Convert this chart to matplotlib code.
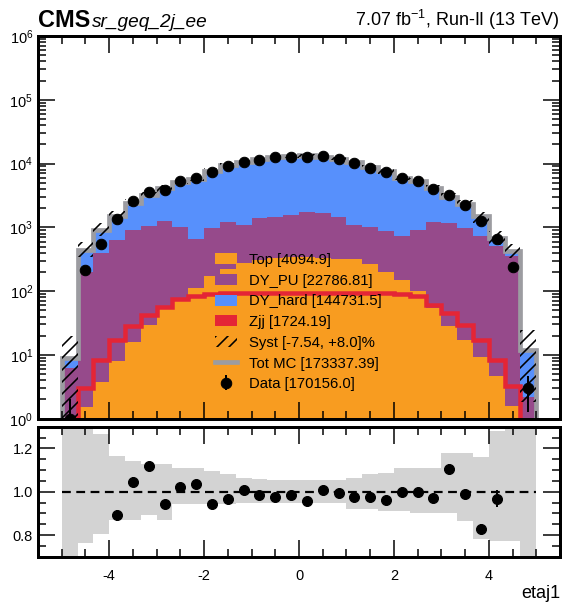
import numpy as np
from matplotlib import pyplot as plt
from matplotlib.patches import Patch
from matplotlib.lines import Line2D
from matplotlib.ticker import MultipleLocator, LogLocator, NullFormatter, FormatStrFormatter

plt.rcParams['font.family'] = ['Liberation Sans', 'DejaVu Sans']
plt.rcParams['mathtext.fontset'] = 'custom'
plt.rcParams['mathtext.rm'] = 'Liberation Sans'
plt.rcParams['mathtext.it'] = 'Liberation Sans:italic'
plt.rcParams['mathtext.bf'] = 'Liberation Sans:bold'
plt.rcParams['axes.unicode_minus'] = False
plt.rcParams['hatch.linewidth'] = 1.6

# 30 bins in etaj1 from -5 to 5
edges = np.linspace(-5, 5, 31)

top = np.array([0, 1.5, 3.8, 7.9, 16, 29, 54, 74, 112, 170,
                220, 280, 312, 328, 337, 338, 333, 323, 320, 270,
                200, 150, 100, 55, 28, 17, 9.4, 4.6, 1.6, 0])
dy_pu = np.array([6.2, 201.5, 394.2, 633.1, 904, 1008, 1188, 940, 545, 808,
                  980, 820, 1092, 1122, 1248, 1380, 1317, 1107, 781, 744,
                  665, 572, 797, 1165, 1138, 961, 712.6, 498.4, 348.4, 2.2])
dy_hard = np.array([2.7, 241, 514, 872, 1502, 2090, 2831, 4061, 4988, 6631,
                    8207, 9207, 10202, 11356, 11321, 11588, 11156, 10445, 9334, 7662,
                    6632, 5158, 4288, 2858, 1734, 1292, 759, 169, 67, 9.8])
zjj = np.array([0, 3.0, 8.4, 17.2, 27.9, 42.6, 57, 75, 85, 91,
                93, 93, 94, 94, 94, 94, 94, 95, 95, 94,
                93, 90, 85, 60, 45, 29.6, 17.2, 8.4, 3.2, 0])
data = np.array([1, 211, 555, 1363, 2560, 3544, 3903, 5253, 5931, 7277,
                 9168, 10494, 11501, 12565, 12779, 12851, 13003, 11898, 10256, 8568,
                 7309, 5970, 5270, 4010, 3260, 2272, 1242, 659, 240, 3])
# relative systematic uncertainty on total MC
syst_up = np.array([1.2, 0.32, 0.265, 0.167, 0.144, 0.129, 0.129, 0.11, 0.11, 0.095,
                    0.083, 0.065, 0.06, 0.055, 0.053, 0.053, 0.053, 0.055, 0.063, 0.08,
                    0.085, 0.11, 0.11, 0.11, 0.18, 0.18, 0.16, 0.28, 0.32, 1.05])
syst_dn = np.array([0.95, 0.235, 0.197, 0.132, 0.132, 0.106, 0.129, 0.056, 0.056, 0.056,
                    0.055, 0.054, 0.052, 0.05, 0.05, 0.05, 0.05, 0.05, 0.08, 0.08,
                    0.087, 0.087, 0.10, 0.10, 0.10, 0.133, 0.217, 0.227, 0.227, 0.85])

labels = ['Top [4094.9]', 'DY_PU [22786.81]', 'DY_hard [144731.5]', 'Zjj [1724.19]',
          'Syst [-7.54, +8.0]%', 'Tot MC [173337.39]', 'Data [170156.0]']

c_top, c_pu, c_hard, c_zjj, c_tot = '#f89c20', '#964a8b', '#5790fc', '#e42536', '#9c9ca1'

centers = 0.5 * (edges[1:] + edges[:-1])
s1 = top
s2 = top + dy_pu
s3 = s2 + dy_hard
tot = s3 + zjj

fig = plt.figure(figsize=(562 / 72, 605 / 72), dpi=72)
ax = fig.add_axes([38 / 562, 1 - 418.7 / 605, 522 / 562, 382.7 / 605])
rax = fig.add_axes([38 / 562, 1 - 556.7 / 605, 522 / 562, 130 / 605])

# stacked backgrounds
ax.stairs(s3, edges, baseline=s2, fill=True, color=c_hard, lw=0)
ax.stairs(s2, edges, baseline=s1, fill=True, color=c_pu, lw=0)
ax.stairs(s1, edges, baseline=0, fill=True, color=c_top, lw=0)
ax.stairs(zjj, edges, color=c_zjj, lw=4.5)
ax.stairs(tot, edges, color=c_tot, lw=4.7)
ax.stairs(tot * (1 + syst_up), edges, baseline=tot * (1 - syst_dn), fill=True,
          facecolor='none', edgecolor='k', hatch='//', lw=0)
dat = ax.errorbar(centers, data, yerr=np.sqrt(data), fmt='o', color='k',
                  ms=10.5, elinewidth=2, capsize=0, label=labels[6])

ax.set_yscale('log')
ax.set_ylim(1, 1e6)
ax.set_xlim(-5.5, 5.5)
ax.yaxis.set_major_locator(LogLocator(base=10, numticks=10))
ax.yaxis.set_minor_locator(LogLocator(base=10, subs=np.arange(2, 10), numticks=100))
ax.yaxis.set_minor_formatter(NullFormatter())

handles = [Patch(facecolor=c_top, label=labels[0]),
           Patch(facecolor=c_pu, label=labels[1]),
           Patch(facecolor=c_hard, label=labels[2]),
           Patch(facecolor=c_zjj, label=labels[3]),
           Patch(facecolor='none', edgecolor='k', hatch='//', lw=0, label=labels[4]),
           Line2D([], [], color=c_tot, lw=4.7, label=labels[5]),
           dat]
ax.legend(handles=handles, loc='upper left', bbox_to_anchor=(0.339, 0.433),
          frameon=False, fontsize=14.9, borderpad=0, borderaxespad=0,
          handlelength=1.5, handleheight=0.75, handletextpad=0.8, labelspacing=0.45)

# ratio panel
ratio = data / tot
rerr = np.sqrt(data) / tot
rax.stairs(1 + syst_up, edges, baseline=1 - syst_dn, fill=True, color='#d3d3d3', lw=0)
rax.hlines(1.0, edges[0], edges[-1], colors='k', linestyles=(0, (4, 2.5)), lw=2.2)
rax.errorbar(centers, ratio, yerr=rerr, fmt='o', color='k', ms=10, elinewidth=2, capsize=0)
rax.set_xlim(-5.5, 5.5)
rax.set_ylim(0.7, 1.3)
rax.yaxis.set_major_locator(MultipleLocator(0.2))
rax.yaxis.set_minor_locator(MultipleLocator(0.05))
rax.yaxis.set_major_formatter(FormatStrFormatter('%.1f'))
rax.set_xlabel('etaj1', fontsize=18, loc='right', labelpad=2)

for a in (ax, rax):
    a.xaxis.set_major_locator(MultipleLocator(2))
    a.xaxis.set_minor_locator(MultipleLocator(0.5))
    a.tick_params(which='both', direction='in', top=True, right=True, width=1.5,
                  labelsize=14.5)
    a.tick_params(which='major', length=17)
    a.tick_params(which='minor', length=8)
    a.tick_params(axis='x', pad=12)
    a.tick_params(axis='y', pad=5)
    for sp in a.spines.values():
        sp.set_linewidth(3)
ax.tick_params(labelbottom=False)

fig.text(38 / 562, 1 - 27 / 605, 'CMS', fontsize=23.5, weight='bold', ha='left', va='baseline')
fig.text(92 / 562, 1 - 27 / 605, 'sr_geq_2j_ee', fontsize=19, style='italic', ha='left', va='baseline')
fig.text(560 / 562, 1 - 26 / 605, r'7.07 fb$^{-1}$, Run-II (13 TeV)', fontsize=18,
         ha='right', va='baseline')

fig.savefig('out.png', dpi=72)
